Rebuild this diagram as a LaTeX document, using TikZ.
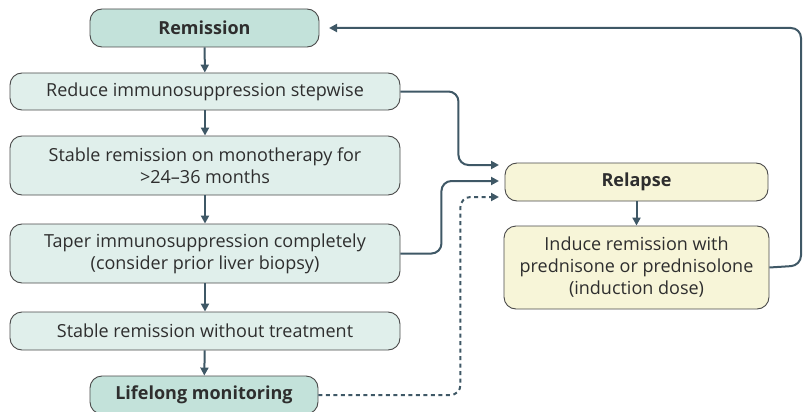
\documentclass[tikz,border=0pt]{standalone}
\usepackage{fontspec}
\setmainfont{Open Sans}
\usetikzlibrary{arrows.meta}
\definecolor{tealdark}{HTML}{C3E2DA}
\definecolor{teallight}{HTML}{E0EFEB}
\definecolor{yel}{HTML}{F7F5D8}
\definecolor{edge}{HTML}{4A4A4A}
\definecolor{conncol}{HTML}{3F5866}
\definecolor{txt}{HTML}{2E2E2E}
\tikzset{
  box/.style={draw=edge, line width=0.9pt, rounded corners=12pt, align=center, inner sep=0pt, font=\fontsize{18}{22}\selectfont, text=txt},
  lbox/.style={box, fill=teallight},
  dbox/.style={box, fill=tealdark, font=\fontsize{18}{22}\selectfont\bfseries},
  ybox/.style={box, fill=yel},
  conn/.style={draw=conncol, line width=2pt, -{Triangle[length=8pt,width=8pt]}, rounded corners=10pt},
}
\begin{document}
\begin{tikzpicture}[x=1pt,y=-1pt]
\useasboundingbox (0,0) rectangle (803,412);
\node[dbox, minimum width=229pt, minimum height=38pt] (rem) at (204.5,28) {Remission};
\node[lbox, minimum width=390pt, minimum height=37pt] (red) at (205,91.5) {Reduce immunosuppression stepwise};
\node[lbox, minimum width=390pt, minimum height=59pt] (mono) at (205,165.5) {Stable remission on monotherapy for\\>24--36 months};
\node[lbox, minimum width=390pt, minimum height=59pt] (tap) at (205,253.5) {Taper immunosuppression completely\\(consider prior liver biopsy)};
\node[lbox, minimum width=390pt, minimum height=38pt] (wo) at (205,331) {Stable remission without treatment};
\node[dbox, minimum width=228pt, minimum height=38pt] (life) at (204,395) {Lifelong monitoring};
\node[ybox, font=\fontsize{18}{22}\selectfont\bfseries, minimum width=263pt, minimum height=38pt] (rel) at (636.5,182) {Relapse};
\node[ybox, minimum width=265pt, minimum height=83pt] (ind) at (636.5,267.5) {Induce remission with\\prednisone or prednisolone\\(induction dose)};
\coordinate (ra) at (499,165);
\coordinate (rb) at (499,181);
\coordinate (rc) at (499,197);
\coordinate (loopR) at (801,265.5);
\coordinate (remR) at (329,28);
\draw[conn] (rem) -- (red);
\draw[conn] (red) -- (mono);
\draw[conn] (mono) -- (tap);
\draw[conn] (tap) -- (wo);
\draw[conn] (wo) -- (life);
\draw[conn] (rel) -- (ind);
\draw[conn] (red.east) -- ++(58,0) |- (ra);
\draw[conn] (tap.east) -- ++(41,0) |- (rb);
\draw[conn, dash pattern=on 4pt off 3.5pt] (life.east) -- ++(142,0) |- (rc);
\draw[conn] (ind.east) -- (loopR) |- (remR);
\end{tikzpicture}
\end{document}
